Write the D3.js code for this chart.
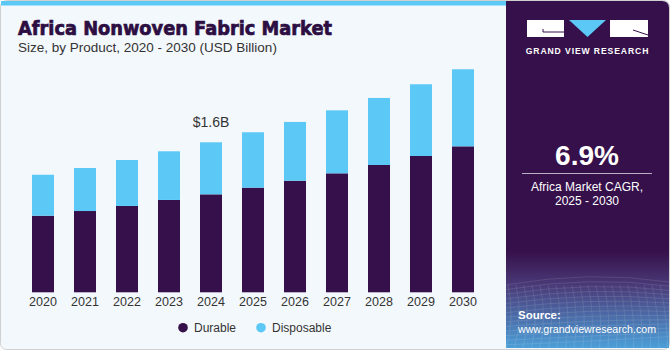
<!DOCTYPE html>
<html>

<head>
  <meta charset="utf-8">
  <title>Africa Nonwoven Fabric Market</title>
  <style>
    body { margin: 0; background: #ffffff; }
    svg { display: block; }
  </style>
</head>

<body>
  <svg width="670" height="350"></svg>
  <script src="https://d3js.org/d3.v7.min.js"></script>
  <script>
    // data (USD Billion)
    var years = ["2020", "2021", "2022", "2023", "2024", "2025", "2026", "2027", "2028", "2029", "2030"];
    var durable = [0.817, 0.867, 0.921, 0.985, 1.045, 1.116, 1.190, 1.269, 1.358, 1.454, 1.557];
    var disposable = [0.437, 0.459, 0.490, 0.519, 0.555, 0.591, 0.627, 0.672, 0.715, 0.765, 0.822];
    var seriesNames = ["Durable", "Disposable"];
    var seriesColors = ["#36104a", "#5bc8f5"];
    var labelYear = "2024";
    var labelText = "$1.6B";

    var svg = d3.select("svg");
    var defs = svg.append("defs");

    // frame
    svg.append("rect")
      .attr("x", 0.5).attr("y", 0.5)
      .attr("width", 669).attr("height", 349)
      .attr("rx", 6)
      .attr("fill", "#f3f8fc")
      .attr("stroke", "#d0d0d0");

    svg.append("rect")
      .attr("x", 1).attr("y", 1)
      .attr("width", 506).attr("height", 4.5)
      .attr("fill", "#5bc8f5");

    // right panel
    var grad = defs.append("linearGradient")
      .attr("id", "panelGrad")
      .attr("x1", 0).attr("y1", 0).attr("x2", 0).attr("y2", 1);
    grad.append("stop").attr("offset", "0%").attr("stop-color", "#36104a");
    grad.append("stop").attr("offset", "72%").attr("stop-color", "#36104a");
    grad.append("stop").attr("offset", "82%").attr("stop-color", "#4a3a78");
    grad.append("stop").attr("offset", "100%").attr("stop-color", "#4c9fd8");

    svg.append("path")
      .attr("d", "M506,1 H662 Q669,1 669,8 V348 H506 Z")
      .attr("fill", "url(#panelGrad)");

    // faint mesh in the bottom of the panel
    var mesh = svg.append("g").attr("opacity", 0.18).attr("stroke", "#ffffff").attr("stroke-width", 0.6).attr("fill", "none");
    d3.range(0, 14).forEach(function (i) {
      mesh.append("path").attr("d", "M506," + (285 + i * 4.6) + " Q590," + (270 + i * 5.5) + " 669," + (282 + i * 4.2));
    });
    d3.range(0, 20).forEach(function (i) {
      mesh.append("path").attr("d", "M" + (508 + i * 8) + ",285 Q" + (515 + i * 8) + ",315 " + (506 + i * 8.5) + ",348");
    });

    // logo
    var logo = svg.append("g");
    logo.append("rect").attr("x", 527).attr("y", 20).attr("width", 37).attr("height", 17).attr("fill", "#ffffff");
    logo.append("path").attr("d", "M569,20 H606 L587.5,37 Z").attr("fill", "#5bc8f5");
    logo.append("rect").attr("x", 610).attr("y", 20).attr("width", 38).attr("height", 17).attr("fill", "#ffffff");
    logo.append("path").attr("d", "M543,29 V32 H564").attr("stroke", "#36104a").attr("stroke-width", 1).attr("fill", "none");
    logo.append("path").attr("d", "M633,30 L648,35").attr("stroke", "#36104a").attr("stroke-width", 1).attr("fill", "none");
    logo.append("text")
      .attr("x", 587.5).attr("y", 54)
      .attr("text-anchor", "middle")
      .attr("font-family", "Liberation Sans, Arial, sans-serif")
      .attr("font-weight", "bold")
      .attr("font-size", 8.6)
      .attr("letter-spacing", 0.9)
      .attr("fill", "#ffffff")
      .text("GRAND VIEW RESEARCH");

    // CAGR block
    svg.append("text")
      .attr("x", 587).attr("y", 165)
      .attr("text-anchor", "middle")
      .attr("font-family", "Liberation Sans, Arial, sans-serif")
      .attr("font-weight", "bold")
      .attr("font-size", 28)
      .attr("fill", "#ffffff")
      .text("6.9%");
    svg.append("line")
      .attr("x1", 522).attr("x2", 652).attr("y1", 173.5).attr("y2", 173.5)
      .attr("stroke", "#b9aec4").attr("stroke-width", 1);
    svg.append("text")
      .attr("x", 587).attr("y", 191)
      .attr("text-anchor", "middle")
      .attr("font-family", "Liberation Sans, Arial, sans-serif")
      .attr("font-size", 12)
      .attr("fill", "#ffffff")
      .text("Africa Market CAGR,");
    svg.append("text")
      .attr("x", 587).attr("y", 205)
      .attr("text-anchor", "middle")
      .attr("font-family", "Liberation Sans, Arial, sans-serif")
      .attr("font-size", 12)
      .attr("fill", "#ffffff")
      .text("2025 - 2030");

    // source
    svg.append("text")
      .attr("x", 518).attr("y", 319)
      .attr("font-family", "Liberation Sans, Arial, sans-serif")
      .attr("font-weight", "bold")
      .attr("font-size", 11.5)
      .attr("fill", "#ffffff")
      .text("Source:");
    svg.append("text")
      .attr("x", 518).attr("y", 333)
      .attr("font-family", "Liberation Sans, Arial, sans-serif")
      .attr("font-size", 11)
      .attr("textLength", 138)
      .attr("lengthAdjust", "spacingAndGlyphs")
      .attr("fill", "#ffffff")
      .text("www.grandviewresearch.com");

    // titles
    svg.append("text")
      .attr("x", 18).attr("y", 35)
      .attr("font-family", "DejaVu Sans, sans-serif")
      .attr("font-weight", "bold")
      .attr("font-size", 19)
      .attr("textLength", 314)
      .attr("lengthAdjust", "spacingAndGlyphs")
      .attr("fill", "#2d0e42")
      .attr("stroke", "#2d0e42")
      .attr("stroke-width", 0.7)
      .text("Africa Nonwoven Fabric Market");
    svg.append("text")
      .attr("x", 18).attr("y", 52)
      .attr("font-family", "Liberation Sans, Arial, sans-serif")
      .attr("font-size", 13.5)
      .attr("fill", "#333333")
      .text("Size, by Product, 2020 - 2030 (USD Billion)");

    // chart
    var xScale = d3.scaleBand().domain(years).range([22, 484]).paddingInner(0.476).paddingOuter(0.238);
    var yScale = d3.scaleLinear().domain([0, 2.5]).range([292.3, 292.3 - 2.5 * 93.75]);

    var table = years.map(function (y, i) {
      return { year: y, Durable: durable[i], Disposable: disposable[i] };
    });
    var stacked = d3.stack().keys(seriesNames)(table);

    svg.append("g")
      .selectAll("g")
      .data(stacked)
      .join("g")
      .attr("fill", function (d, i) { return seriesColors[i]; })
      .selectAll("rect")
      .data(function (d) { return d; })
      .join("rect")
      .attr("x", function (d) { return xScale(d.data.year); })
      .attr("width", xScale.bandwidth())
      .attr("y", function (d) { return yScale(d[1]); })
      .attr("height", function (d) { return yScale(d[0]) - yScale(d[1]); });

    var xAxis = svg.append("g")
      .attr("transform", "translate(0,292.3)")
      .call(d3.axisBottom(xScale).tickSize(0).tickPadding(5));
    xAxis.select(".domain").remove();
    xAxis.selectAll("text")
      .attr("font-family", "Liberation Sans, Arial, sans-serif")
      .attr("font-size", 12.5)
      .attr("fill", "#333333");

    var li = years.indexOf(labelYear);
    svg.append("text")
      .attr("x", xScale(labelYear) + xScale.bandwidth() / 2)
      .attr("y", yScale(durable[li] + disposable[li]) - 15)
      .attr("text-anchor", "middle")
      .attr("font-family", "Liberation Sans, Arial, sans-serif")
      .attr("font-size", 14)
      .attr("fill", "#333333")
      .text(labelText);

    // legend
    var legendX = [183, 261];
    var legend = svg.append("g")
      .selectAll("g")
      .data(seriesNames)
      .join("g")
      .attr("transform", function (d, i) { return "translate(" + legendX[i] + ",327.7)"; });
    legend.append("circle").attr("r", 4.8).attr("fill", function (d, i) { return seriesColors[i]; });
    legend.append("text")
      .attr("x", 11).attr("y", 4.3)
      .attr("font-family", "Liberation Sans, Arial, sans-serif")
      .attr("font-size", 12)
      .attr("fill", "#333333")
      .text(function (d) { return d; });
  </script>

</body>

</html>
